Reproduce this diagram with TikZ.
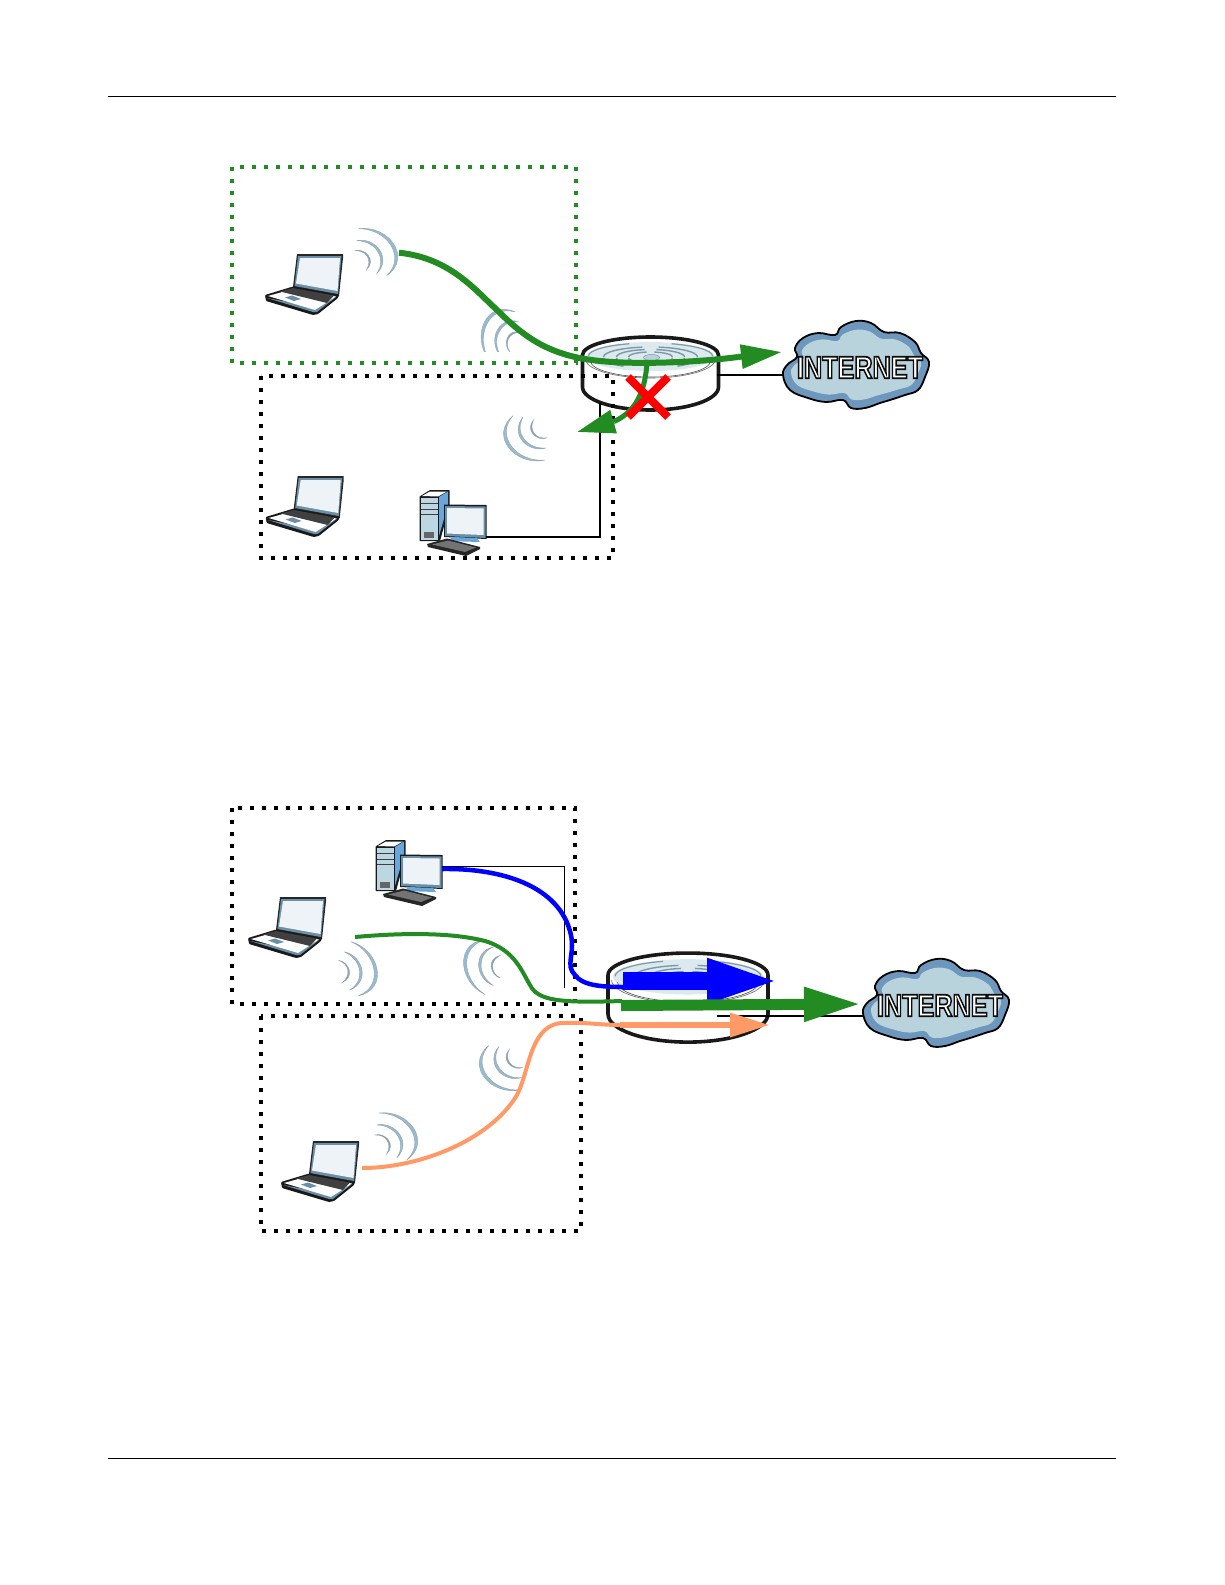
\documentclass[tikz,border=0pt]{standalone}
\usepackage{fontspec}
\setmainfont{Liberation Sans}
\usetikzlibrary{arrows.meta}
\definecolor{fgreen}{HTML}{228B22}
\definecolor{forange}{HTML}{FF9A66}
\definecolor{wavea}{HTML}{9ABAD0}
\definecolor{waveb}{HTML}{8CA2AE}
\definecolor{screenw}{HTML}{EEF3F8}
\definecolor{frameb}{HTML}{6B8FA6}
\definecolor{towerb}{HTML}{BCD6E2}
\definecolor{sideb}{HTML}{6AA6DA}
\definecolor{cloudo}{HTML}{6E97BE}
\definecolor{cloudi}{HTML}{B9D3DC}
\definecolor{plate}{HTML}{DCE9EE}
\definecolor{ring}{HTML}{7D98A8}
\newcommand\cloudpath{plot[smooth cycle,tension=.68] coordinates {(0,0) (4,-10) (14,-18) (12,-27) (20,-37) (35,-42) (52,-40) (58,-48) (73,-54) (88,-52) (101,-43) (117,-42) (132,-33) (138,-22) (146,-13) (142,2) (135,15) (122,20) (107,25) (97,28) (82,33) (68,33) (60,25) (43,27) (25,23) (7,15)}}
\tikzset{
  x=1pt,y=-1pt,
  dotbox/.style={line width=4pt,dash pattern=on 4pt off 8pt,line cap=butt},
  laptop/.pic={
    \fill[black!85] (32,0)--(78,0)--(78,4)--(74,42)--(28,33)--cycle;
    \fill[frameb] (33,2)--(76.5,2)--(73,40)--(29.5,32)--cycle;
    \fill[screenw] (35,4)--(75,4)--(72.5,37)--(31,29.5)--cycle;
    \fill[black!90,rounded corners=1pt] (0,41)--(28,32.5)--(74,41)--(73,44)--(53,60)--(48,61)--(1,47)--cycle;
    \fill[frameb] (2,44)--(48,58)--(52,58)--(71,43)--(50,53)--cycle;
    \fill[white] (3,42)--(28,35)--(71,42.5)--(50,56)--cycle;
    \fill[black!75] (15,37.5)--(28,34)--(69,41.5)--(62,49)--cycle;
    \fill[frameb] (20,43.5)--(27,41.5)--(36,45)--(29,47)--cycle;
  },
  desktop/.pic={
    \fill[black!90,rounded corners=.6pt] (-.5,6.5)--(10,0)--(29.5,0)--(29.5,16)--(20,51)--(-.5,51)--cycle;
    \fill[towerb] (1,7.5)--(18,7.5)--(18,49.5)--(1,49.5)--cycle;
    \fill[sideb] (19,7)--(28,1.5)--(28,15)--(19,46)--cycle;
    \fill[white] (2,6)--(10,1.5)--(27,1.5)--(18,6.5)--cycle;
    \draw[black!75,line width=.7pt] (1,13)--(18,13) (1,19)--(18,19) (1,24.5)--(18,24.5);
    \fill[black!60] (3.5,42)--(14,42)--(14,47.5)--(3.5,47.5)--cycle;
    \fill[black!90] (24,14.5)--(66.5,15)--(66.5,49)--(24,47)--cycle;
    \fill[frameb] (25,16)--(65.5,16.5)--(65.5,48)--(25,46)--cycle;
    \fill[screenw] (27,18)--(63.5,18.5)--(63.5,45)--(27,43.5)--cycle;
    \fill[sideb] (33,47)--(57,48)--(60,52)--(27,51)--cycle;
    \fill[black!85] (7,54)--(27,48.5)--(60,57)--(60,59)--(46,66)--(8,57)--cycle;
    \fill[black!55] (12,54.5)--(28,50.5)--(56,57.5)--(45,62)--cycle;
  },
  wavemark/.pic={
    \fill[wavea,draw=waveb,line width=.35pt] (2,-23) .. controls (32,-27) and (56,6) .. (30,24) .. controls (50,5) and (30,-23) .. (2,-23) -- cycle;
    \fill[wavea,draw=waveb,line width=.4pt] (0,-11) .. controls (18,-15) and (36,6) .. (20,22) .. controls (31,6) and (18,-11) .. (0,-11) -- cycle;
    \fill[waveb,draw=waveb,line width=.4pt] (-2,-1) .. controls (8,-4) and (20,8) .. (10,18) .. controls (16,8) and (9,-2) .. (-2,-1) -- cycle;
  },
  routerdev/.pic={
    \filldraw[fill=white,draw=black!90,line width=3.6pt] (-68,0) arc[start angle=180,end angle=360,x radius=68,y radius=18] -- (68,32) arc[start angle=0,end angle=180,x radius=68,y radius=23] -- cycle;
    \fill[plate] (0,1.5) ellipse[x radius=64,y radius=14.5];
    \draw[black!60,line width=.6pt] (-65,4) arc[start angle=180,end angle=0,x radius=65,y radius=19];
    \draw[black!70,line width=.6pt] (-60,6) arc[start angle=180,end angle=0,x radius=60,y radius=16];
    \draw[ring,line width=1.2pt] (-62,1) arc[start angle=180,end angle=250,x radius=62,y radius=13];
    \draw[ring,line width=1.2pt] (62,1) arc[start angle=360,end angle=290,x radius=62,y radius=13];
    \foreach \r/\s in {47/10,34/7.5,22/5}{
      \draw[ring,line width=1.4pt] (-\r,2) arc[start angle=180,end angle=260,x radius=\r,y radius=\s];
      \draw[ring,line width=1.4pt] (\r,2) arc[start angle=360,end angle=280,x radius=\r,y radius=\s];
      \draw[ring,line width=1.4pt] (-\r,3) arc[start angle=180,end angle=125,x radius=\r,y radius=\s];
      \draw[ring,line width=1.4pt] (\r,3) arc[start angle=0,end angle=55,x radius=\r,y radius=\s];
    }
    \filldraw[fill=cloudi,draw=ring,line width=.5pt] (1,2.5) ellipse[x radius=8,y radius=3];
  },
  netcloud/.pic={
    \filldraw[fill=cloudo,draw=black,line width=1.8pt] \cloudpath;
    \begin{scope}[shift={(73,-10)},xscale=.89,yscale=.8,shift={(-73,10)}]
      \fill[cloudi] \cloudpath;
    \end{scope}
    \node[inner sep=0pt,transform shape,yscale=1.25] (txt) at (77,-7.5) {\fontsize{25.2}{25.2}\selectfont\bfseries\special{pdf:code 2 Tr 1.4 w 0.05 0.05 0.05 RG 1 1 1 rg}INTERNET\special{pdf:code 0 Tr 1 w 0 0 0 RG 0 0 0 rg}};
  },
}
\begin{document}
\begin{tikzpicture}
\useasboundingbox (0,0) rectangle (1225,1585);
% page rules
\coordinate (ruleTL) at (108,96); \coordinate (ruleTR) at (1116,96);
\coordinate (ruleBL) at (108,1458); \coordinate (ruleBR) at (1116,1458);
\draw[line width=1pt] (ruleTL)--(ruleTR);
\draw[line width=1pt] (ruleBL)--(ruleBR);

% ---------- upper figure ----------
\pic (lapA) at (265,254) {laptop};
\pic (lapB) at (265.7,476) {laptop};
\pic (pcA) at (420,490) {desktop};
\pic (wA1) at (356.7,251.7) {wavemark};
\begin{scope}
  \clip (450,300) rectangle (560,351.7);
  \pic[rotate=-239] (wA2) at (510,350) {wavemark};
\end{scope}
\pic[rotate=-175] (wA3) at (545,437) {wavemark};
\pic (rtA) at (650.5,355) {routerdev};
\pic (clA) at (783,375) {netcloud};
\coordinate (rtAe) at (716.7,375); \coordinate (clAw) at (783,375);
\coordinate (rtAs) at (600,403); \coordinate (pcAe) at (485.7,537); \coordinate (pcAc) at (600,537);
\draw[line width=1.4pt] (rtAe)--(clAw);
\draw[line width=1.5pt] (pcAe)--(pcAc)--(rtAs);
\draw[fgreen,dotbox] (232,167) rectangle (576,363);
\draw[dotbox] (261,376) rectangle (613,558);
% green flow
\coordinate (gA0) at (399,252.7); \coordinate (gA1) at (738,357); \coordinate (gAt) at (782,352);
\draw[fgreen,line width=6pt] (gA0) .. controls (450,258) and (475,290) .. (497,310) .. controls (525,338) and (550,356) .. (600,361) .. controls (640,365) and (700,362) .. (gA1);
\draw[fgreen,line width=6pt,-{Triangle[length=41pt,width=23pt]}] (gA1)--(gAt);
\coordinate (gB0) at (647,364); \coordinate (gB1) at (614,421.5); \coordinate (gBt) at (577,432);
\draw[fgreen,line width=5pt] (gB0) .. controls (645,385) and (640,410) .. (gB1);
\draw[fgreen,line width=5pt,-{Triangle[length=38pt,width=23pt]}] (gB1)--(gBt);
% red cross
\coordinate (xa) at (628,377); \coordinate (xb) at (668,417); \coordinate (xc) at (668,377); \coordinate (xd) at (628,417);
\draw[red,line width=8pt] (xa)--(xb) (xc)--(xd);

% ---------- lower figure ----------
\pic (lapC) at (248,897) {laptop};
\pic (lapD) at (281,1141) {laptop};
\pic (pcB) at (376,840) {desktop};
\pic[rotate=-23] (wB1) at (340,962) {wavemark};
\pic[rotate=-212] (wB2) at (499,976) {wavemark};
\pic[rotate=-175] (wB3) at (520.7,1066.7) {wavemark};
\pic (wB4) at (376.7,1136) {wavemark};
\pic[xscale=1.176,yscale=1.22] (rtB) at (688,975) {routerdev};
\pic (clB) at (863,1013) {netcloud};
\coordinate (pcBe) at (442,866); \coordinate (pcBc) at (564.5,866); \coordinate (rtBw) at (564.5,988);
\draw[line width=1pt] (pcBe)--(pcBc)--(rtBw);
\coordinate (rtBe) at (717,1016); \coordinate (clBw) at (863,1016);
\draw[line width=1.4pt] (rtBe)--(clBw);
\draw[dotbox] (232,808) rectangle (575,1004);
\draw[dotbox] (261,1016) rectangle (581,1231);
% blue flow
\coordinate (bl0) at (442,869); \coordinate (bl1) at (623,987); \coordinate (bl2) at (623,981); \coordinate (blt) at (781,981);
\draw[blue,line width=4.5pt] (bl0) .. controls (500,868) and (560,885) .. (571,935) .. controls (575,955) and (565,965) .. (575,975) .. controls (582,985) and (600,987) .. (bl1);
\draw[blue,line width=18pt,-{Triangle[length=74pt,width=40pt]}] (bl2)--(blt);
% green flow
\coordinate (gr0) at (355,937); \coordinate (gr1) at (622,1001); \coordinate (gr2) at (621,1005.5); \coordinate (grt) at (861,1004);
\draw[fgreen,line width=4pt] (gr0) .. controls (400,933) and (450,932) .. (485,941) .. controls (515,950) and (522,972) .. (530,985) .. controls (538,1001) and (560,1003) .. (gr1);
\draw[fgreen,line width=11pt,-{Triangle[length=57pt,width=32pt]}] (gr2)--(grt);
% orange flow
\coordinate (or0) at (362,1168); \coordinate (or1) at (620,1025); \coordinate (ort) at (770,1025);
\draw[forange,line width=4pt] (or0) .. controls (420,1168) and (490,1140) .. (517,1095) .. controls (530,1070) and (530,1022) .. (565,1023) .. controls (585,1022) and (600,1025) .. (or1);
\draw[forange,line width=6.5pt,-{Triangle[length=40pt,width=23pt]}] (or1)--(ort);
\end{tikzpicture}
\end{document}
